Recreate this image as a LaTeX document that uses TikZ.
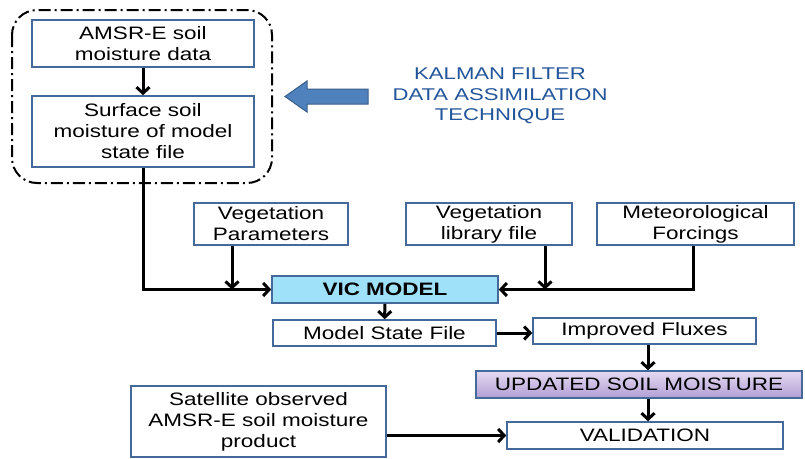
\documentclass[tikz,border=0pt]{standalone}
\usepackage{fontspec}
\setmainfont{Liberation Sans}
\newfontfamily\boxfont[FakeStretch=1.25]{Liberation Sans}
\newfontfamily\kalfont[FakeStretch=1.3]{Liberation Sans}
\usetikzlibrary{arrows.meta}
\definecolor{boxblue}{RGB}{70,105,155}
\definecolor{vicfill}{RGB}{160,225,250}
\definecolor{updtop}{RGB}{228,218,242}
\definecolor{updbot}{RGB}{178,158,212}
\definecolor{arrfill}{RGB}{79,129,189}
\definecolor{arredge}{RGB}{56,93,138}
\definecolor{kalblue}{RGB}{35,85,155}
\tikzset{
  box/.style={draw=boxblue, line width=1.6pt, fill=white, align=center, inner sep=0pt,
    font=\boxfont\fontsize{18}{21}\selectfont, text=black},
  arr/.style={line width=3pt, -{Straight Barb[length=6pt,width=13pt]}},
  dashdotframe/.style={line width=2pt, rounded corners=25pt,
    dash pattern=on 12pt off 4pt on 2pt off 4pt}
}
\begin{document}
\begin{tikzpicture}[x=1pt,y=-1pt]
\useasboundingbox[fill=white] (0,0) rectangle (805,458);

% dashed frame
\draw[dashdotframe] (12,10) rectangle (272,183);

% boxes
\node[box, minimum width=222, minimum height=47] (amsr) at (143,43.5) {AMSR-E soil\\moisture data};
\node[box, minimum width=222, minimum height=71] (surf) at (143,131.5) {Surface soil\\moisture of model\\state file};
\node[box, minimum width=154, minimum height=42] (vp) at (271,224) {Vegetation\\Parameters};
\node[box, minimum width=166, minimum height=42] (vl) at (489,224) {Vegetation\\library file};
\node[box, minimum width=197, minimum height=42] (mf) at (695.5,224) {Meteorological\\Forcings};
\node[box, fill=vicfill, minimum width=226, minimum height=27] (vic) at (385,289.5) {\bfseries VIC MODEL};
\node[box, minimum width=223, minimum height=26] (msf) at (384.5,333) {Model State File};
\node[box, minimum width=223, minimum height=26] (imp) at (644.5,331) {Improved Fluxes};
\node[box, top color=updtop, bottom color=updbot, minimum width=326, minimum height=27] (upd) at (639,384.5) {UPDATED SOIL MOISTURE};
\node[box, minimum width=255, minimum height=71] (sat) at (258.5,421.5) {Satellite observed\\AMSR-E soil moisture\\product};
\node[box, minimum width=276, minimum height=27] (val) at (645,435.5) {VALIDATION};

% Kalman text and block arrow
\node[text=kalblue, font=\kalfont\fontsize{17}{20.5}\selectfont, align=center, inner sep=0pt] (kal) at (500,96) {KALMAN FILTER\\DATA ASSIMILATION\\TECHNIQUE};
\draw[fill=arrfill, draw=arredge, line width=1pt, line join=miter]
  (285,96.5) -- (307,81) -- (307,89) -- (368,89) -- (368,104) -- (307,104) -- (307,112) -- cycle;

% connectors
\coordinate (j1) at (232,0);
\coordinate (j2) at (545,0);
\coordinate (j3) at (693,0);
\coordinate (j4) at (648,0);
\draw[arr] (amsr) -- (surf);
\draw[arr] (surf.south) |- (vic.west);
\draw[arr] (vp.south -| j1) -- (j1 |- vic.west);
\draw[arr] (vl.south -| j2) -- (j2 |- vic.east);
\draw[arr] (mf.south -| j3) |- (vic.east);
\draw[arr] (vic) -- (msf);
\draw[arr] (msf.east) -- (msf.east -| imp.west);
\draw[arr] (imp.south -| j4) -- (upd.north -| j4);
\draw[arr] (upd.south -| j4) -- (val.north -| j4);
\draw[arr] (sat.east |- val.west) -- (val.west);
\end{tikzpicture}
\end{document}
